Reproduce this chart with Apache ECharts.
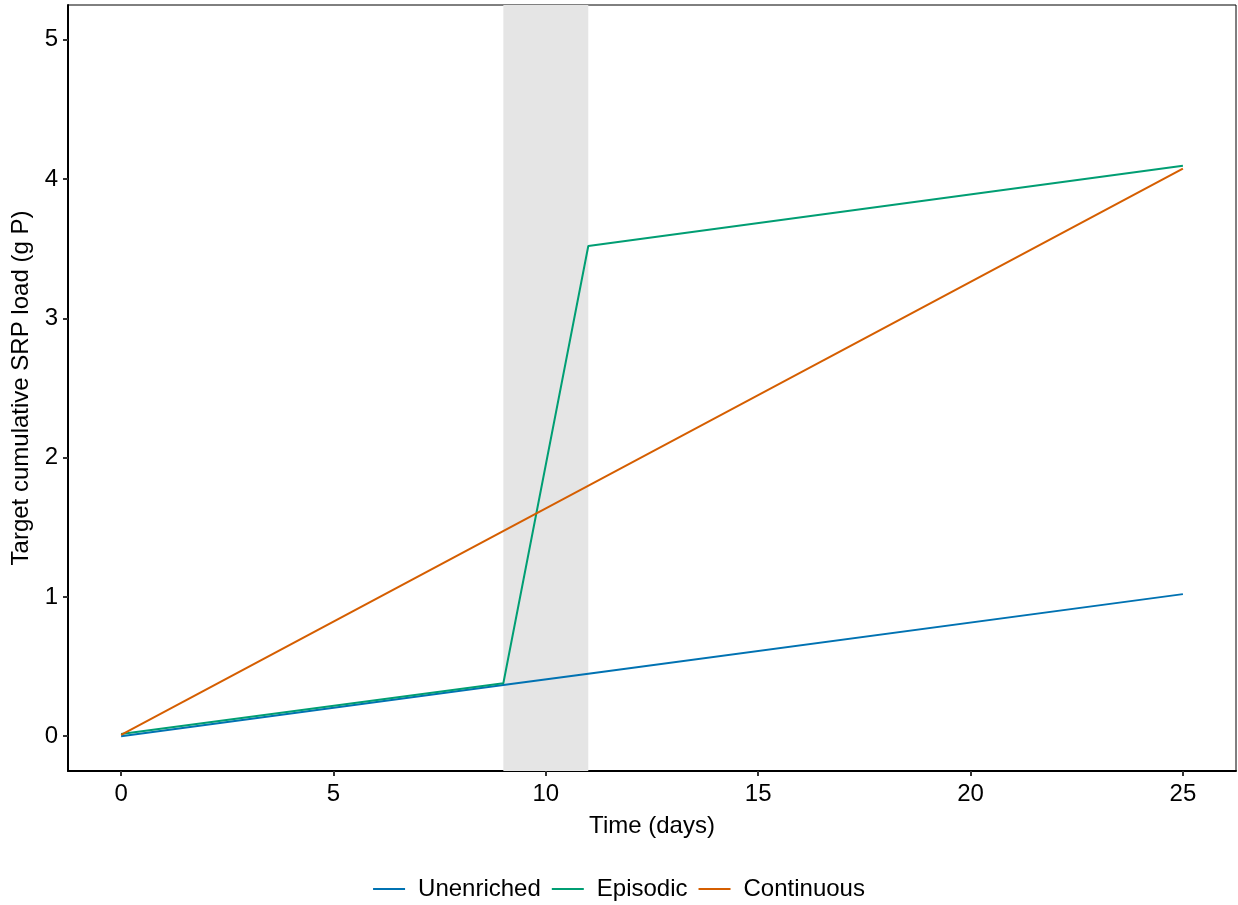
<!DOCTYPE html>
<html>
<head>
<meta charset="utf-8">
<script src="https://cdn.jsdelivr.net/npm/echarts@6/dist/echarts.min.js"></script>
<style>
html,body{margin:0;padding:0;background:#fff;}
#chart{width:1238px;height:905px;}
</style>
</head>
<body>
<div id="chart"></div>
<script>
const seriesNames = ['Unenriched', 'Episodic', 'Continuous'];
const unenrichedDays = [0, 9, 11, 25];
const unenrichedLoad = [0.0, 0.367, 0.449, 1.02];
const episodicDays = [0, 9, 11, 25];
const episodicLoad = [0.015, 0.38, 3.52, 4.095];
const continuousDays = [0, 25];
const continuousLoad = [0.01, 4.075];
const pulseStart = 9;
const pulseEnd = 11;
const xTicks = [0, 5, 10, 15, 20, 25];
const yTicks = [0, 1, 2, 3, 4, 5];

const colors = ['#0072B2', '#009E73', '#D55E00'];
const pair = (xs, ys) => xs.map((x, i) => [x, ys[i]]);

const chart = echarts.init(document.getElementById('chart'));
const font = 'Liberation Sans, Arial, sans-serif';
chart.setOption({
  animation: false,
  backgroundColor: '#fff',
  textStyle: { fontFamily: font },
  grid: {
    left: 68, right: 2, top: 5, bottom: 134,
    show: true, borderColor: '#000', borderWidth: 1, backgroundColor: 'transparent'
  },
  legend: {
    bottom: 4,
    left: 'center',
    padding: 0,
    data: seriesNames,
    icon: 'rect',
    itemWidth: 32,
    itemHeight: 2,
    itemGap: 11,
    textStyle: { fontSize: 24, color: '#000', fontFamily: font, padding: [0, 0, 0, 8] }
  },
  xAxis: {
    type: 'value',
    min: -1.25, max: 26.25,
    name: 'Time (days)',
    nameLocation: 'middle',
    nameGap: 43,
    nameTextStyle: { fontSize: 24, color: '#000', fontFamily: font },
    axisLine: { show: true, onZero: false, lineStyle: { color: '#000', width: 2 } },
    axisTick: { show: true, length: 5, customValues: xTicks, lineStyle: { color: '#333', width: 2 } },
    axisLabel: { customValues: xTicks, fontSize: 24, color: '#000', margin: 11, fontFamily: font },
    splitLine: { show: false }
  },
  yAxis: {
    type: 'value',
    min: -0.25, max: 5.25,
    name: 'Target cumulative SRP load (g P)',
    nameLocation: 'middle',
    nameGap: 31,
    nameTextStyle: { fontSize: 24, color: '#000', fontFamily: font },
    axisLine: { show: true, onZero: false, lineStyle: { color: '#000', width: 2 } },
    axisTick: { show: true, length: 5, customValues: yTicks, lineStyle: { color: '#333', width: 2 } },
    axisLabel: { customValues: yTicks, fontSize: 24, color: '#000', margin: 10, fontFamily: font },
    splitLine: { show: false }
  },
  series: [
    {
      name: seriesNames[0], type: 'line', data: pair(unenrichedDays, unenrichedLoad),
      showSymbol: false, symbol: 'none', color: colors[0],
      lineStyle: { width: 2, color: colors[0] },
      markArea: {
        silent: true,
        itemStyle: { color: '#e5e5e5' },
        data: [[{ xAxis: pulseStart }, { xAxis: pulseEnd }]]
      }
    },
    {
      name: seriesNames[1], type: 'line', data: pair(episodicDays, episodicLoad),
      showSymbol: false, symbol: 'none', color: colors[1],
      lineStyle: { width: 2, color: colors[1] }
    },
    {
      name: seriesNames[2], type: 'line', data: pair(continuousDays, continuousLoad),
      showSymbol: false, symbol: 'none', color: colors[2],
      lineStyle: { width: 2, color: colors[2] }
    }
  ]
});
</script>
</body>
</html>
